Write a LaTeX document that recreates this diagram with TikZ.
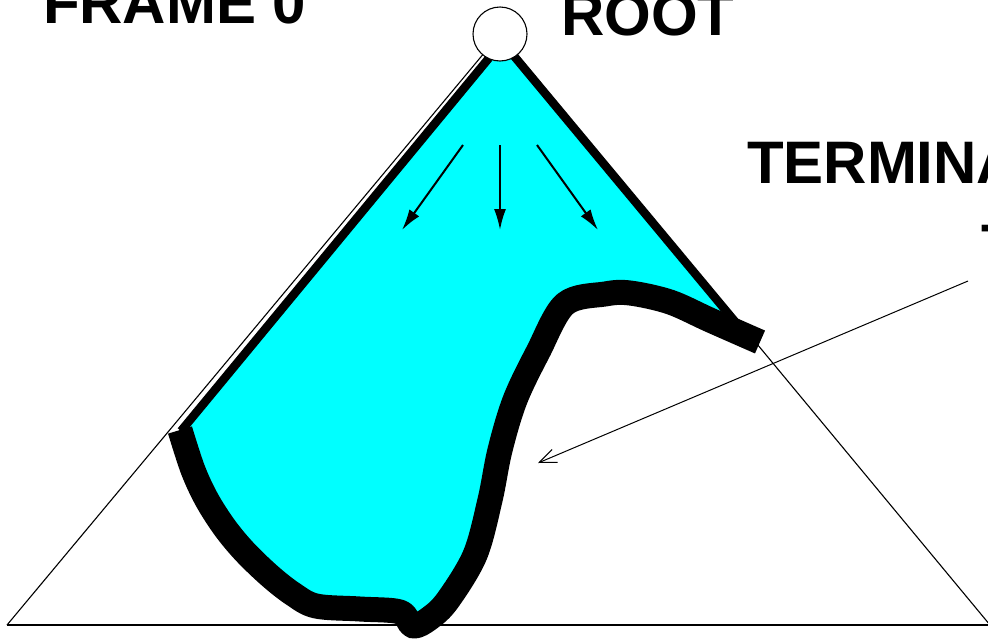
\documentclass[tikz,border=0pt]{standalone}
\usepackage{fontspec}
\setmainfont{Liberation Sans}
\usetikzlibrary{arrows.meta}
\definecolor{cyanfill}{RGB}{0,255,255}
\definecolor{baseline}{RGB}{70,70,70}
\begin{document}
\begin{tikzpicture}[x=1pt,y=-1pt,
  lbl/.style={font=\fontsize{60}{66}\selectfont\bfseries, anchor=base west, inner sep=0pt, outer sep=0pt},
  thinline/.style={line width=1.1pt, black},
  edgeline/.style={line width=8.5pt, black, line cap=butt},
  frontier/.style={line width=25pt, black, line cap=butt, line join=round},
  flowarrow/.style={line width=2pt, -{Latex[length=21pt,width=12pt]}},
  pointer/.style={line width=1pt, -{Straight Barb[length=17pt,width=14pt]}}]
\useasboundingbox (0,0) rectangle (988,643);
% big triangle
\coordinate (apex) at (500,34);
\coordinate (lfoot) at (7,625);
\coordinate (rfoot) at (990,625);
\draw[thinline] (lfoot) -- (apex) -- (rfoot);
\draw[line width=1.6pt, baseline] (lfoot) -- (988,625);
% cyan region
\coordinate (ltop) at (489,58);
\coordinate (lbot) at (181,431);
\coordinate (rtop) at (514,56);
\coordinate (rbot) at (742,330);
\fill[cyanfill] (ltop) -- (lbot) -- plot[smooth, tension=0.55] coordinates {(180,430) (193,470) (207,500) (225,528) (245,552) (270,576) (293,594) (316,606) (360,609) (400,612) (413,626) (430,618) (448,600) (475,555) (490,500) (500,450) (515,400) (538,352) (565,304) (605,294) (630,293) (670,302) (710,320) (760,342)} -- (rbot) -- (rtop) -- cycle;
% thick edges
\draw[edgeline] (ltop) -- (lbot);
\draw[edgeline] (rtop) -- (rbot);
% frontier curve
\draw[frontier] plot[smooth, tension=0.55] coordinates {(180,430) (193,470) (207,500) (225,528) (245,552) (270,576) (293,594) (316,606) (360,609) (400,612) (413,626) (430,618) (448,600) (475,555) (490,500) (500,450) (515,400) (538,352) (565,304) (605,294) (630,293) (670,302) (710,320) (760,342)};
% root
\node[circle, draw, thinline, fill=white, minimum size=54pt, inner sep=0pt] (root) at (apex) {};
% flow arrows
\coordinate (a1s) at (463,145); \coordinate (a1e) at (402,230);
\coordinate (a2s) at (500,145); \coordinate (a2e) at (500,230);
\coordinate (a3s) at (537,145); \coordinate (a3e) at (598,230);
\draw[flowarrow] (a1s) -- (a1e);
\draw[flowarrow] (a2s) -- (a2e);
\draw[flowarrow] (a3s) -- (a3e);
% pointer
\coordinate (ps) at (968,281);
\coordinate (pe) at (538,463);
\draw[pointer] (ps) -- (pe);
% labels
\node[lbl] (frame) at (43,23) {FRAME 0};
\node[lbl] (rootlbl) at (561,35) {ROOT};
\node[lbl] (term) at (747,183) {TERMINAL};
\node[lbl] (term2) at (981,266) {T};
\end{tikzpicture}
\end{document}
